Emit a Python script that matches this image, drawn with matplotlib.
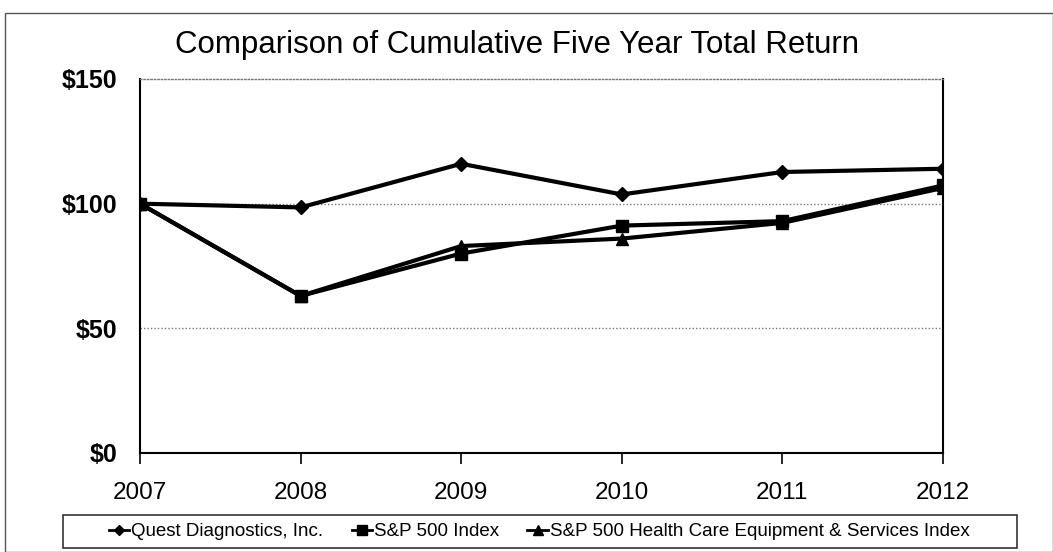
import matplotlib
matplotlib.use("Agg")
import matplotlib.pyplot as plt
from matplotlib.patches import Rectangle

years = [2007, 2008, 2009, 2010, 2011, 2012]
quest = [100, 98.5, 116, 103.7, 112.7, 114]
sp500 = [100, 63, 80, 91.2, 93, 107.3]
hc_index = [100, 63, 83, 86, 92.3, 106.3]
y_ticks = [0, 50, 100, 150]
y_labels = ["$0", "$50", "$100", "$150"]

plt.rcParams['font.family'] = ['Liberation Sans', 'DejaVu Sans']

fig = plt.figure(figsize=(10.53, 5.52), dpi=100)
ax = fig.add_axes([140/1053, 99/552, 803/1053, 374/552])

lw = 3
ax.plot(years, quest, color='black', lw=lw, marker='D', ms=7, label='Quest Diagnostics, Inc.', zorder=3)
ax.plot(years, sp500, color='black', lw=lw, marker='s', ms=9, label='S&P 500 Index', zorder=3)
ax.plot(years, hc_index, color='black', lw=lw, marker='^', ms=9, label='S&P 500 Health Care Equipment & Services Index', zorder=3)

ax.set_xlim(2007, 2012)
ax.set_ylim(0, 150)
ax.set_yticks(y_ticks)
ax.set_yticklabels(y_labels, fontsize=18, fontweight='bold')
ax.set_xticks(years)
ax.set_xticklabels([str(y) for y in years], fontsize=17.5)
ax.tick_params(axis='y', length=0, pad=16)
ax.tick_params(axis='x', direction='out', length=8, width=1.2, pad=13)

for v in [50, 100]:
    ax.axhline(v, color='#777777', lw=1, ls=(0, (1, 1.5)), zorder=1)

ax.spines['top'].set_color('#777777')
ax.spines['top'].set_linestyle((0, (1, 1.5)))
ax.spines['top'].set_linewidth(1)
for s in ['left', 'right', 'bottom']:
    ax.spines[s].set_color('black')
    ax.spines[s].set_linewidth(1.5)

fig.text(0.491, 0.918, "Comparison of Cumulative Five Year Total Return",
         ha='center', va='center', fontsize=22.5)

leg = fig.legend(loc='center', bbox_to_anchor=(0.512, 0.037), ncol=3, fontsize=13.5,
                 frameon=False, handlelength=1.1, handletextpad=0.1,
                 columnspacing=1.5, borderpad=0.2, markerscale=0.75)
for h in leg.legend_handles:
    h.set_linewidth(2)

fig.patches.append(Rectangle((63/1053, (552-548)/552), (1017-63)/1053, 33/552,
                             transform=fig.transFigure, fill=False, edgecolor='#333333', lw=1.2))

fig.patches.append(Rectangle((5/1053, 0.0), 1 - 5/1053, 1 - 13/552, transform=fig.transFigure,
                             fill=False, edgecolor='#555555', lw=1))

fig.savefig("out.png", dpi=100)
